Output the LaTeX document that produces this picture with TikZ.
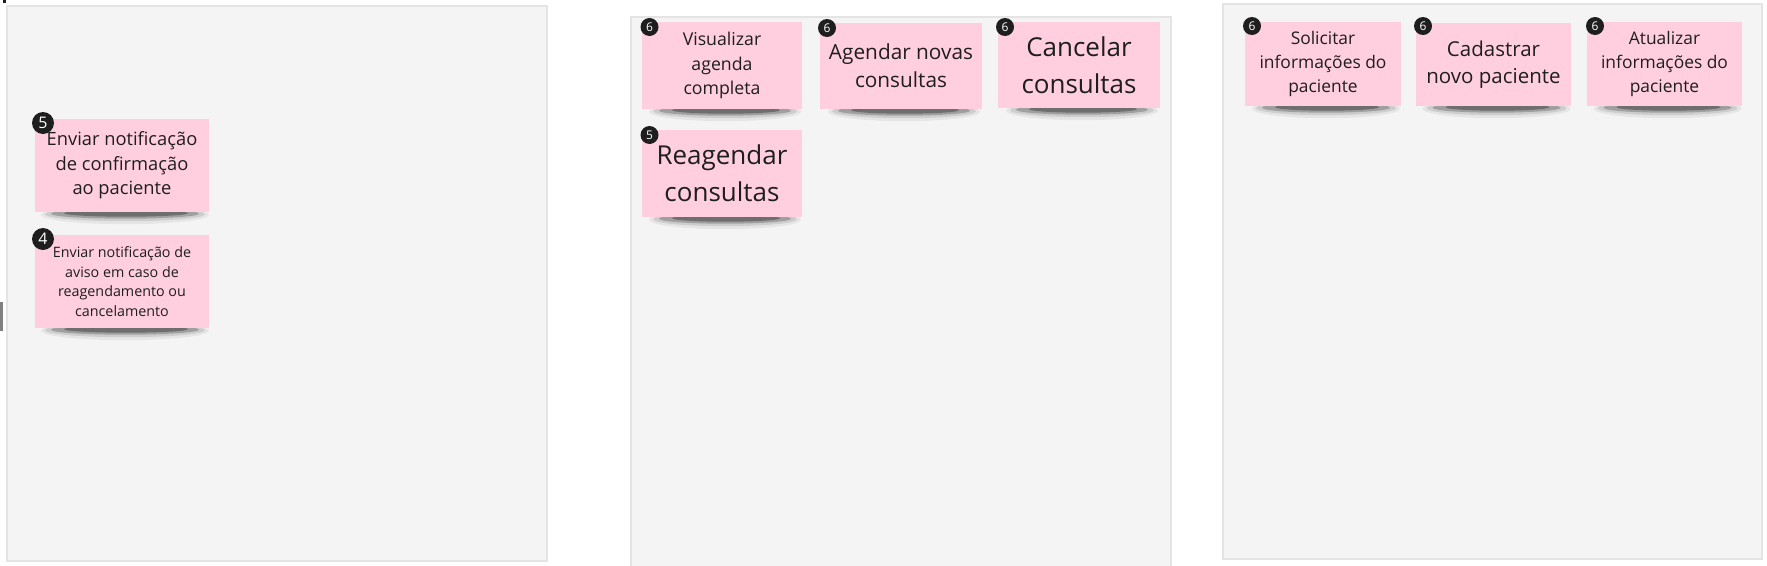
\documentclass[tikz,border=0pt]{standalone}
\usepackage{fontspec}
\setmainfont{Open Sans}
\usetikzlibrary{calc}
\definecolor{panelfill}{HTML}{F4F4F4}
\definecolor{panelline}{HTML}{E4E4E4}
\definecolor{stickyfill}{HTML}{FFCFDF}
\definecolor{inkc}{HTML}{1E1E1E}
\definecolor{markgray}{HTML}{808080}
\pgfdeclarelayer{background}
\pgfsetlayers{background,main}
\newcommand\fsz[2]{\fontsize{#1}{#2}\selectfont}
\newcommand\stickyshadow[2]{%
  \fill[black,opacity=0.06] ($(#1.south)+(3,2.5)$) ellipse [x radius=#2+4, y radius=9.5];
  \fill[black,opacity=0.10] ($(#1.south)+(3,2)$) ellipse [x radius=#2, y radius=7];
  \fill[black,opacity=0.22] ($(#1.south)+(3,1.5)$) ellipse [x radius=#2-6, y radius=5];
  \fill[black,opacity=0.30] ($(#1.south)+(4,1)$) ellipse [x radius=#2-18, y radius=3.5];
}
\begin{document}
\begin{tikzpicture}[x=1pt,y=-1pt,
  panel/.style={fill=panelfill,draw=panelline,line width=1.6pt},
  sticky/.style={fill=stickyfill,inner sep=0pt,align=center,text=inkc},
  badge/.style={circle,fill=inkc,text=white,inner sep=0pt,minimum size=18pt,font=\fontsize{12}{12}\selectfont},
  bigbadge/.style={circle,fill=inkc,text=white,inner sep=0pt,minimum size=22pt,font=\fontsize{16}{16}\selectfont}]
\useasboundingbox (0,0) rectangle (1767,565);

% stickies
\node[sticky,minimum width=174pt,minimum height=93pt,font=\fsz{18.3}{24.6}] (s5) at (122,165.5) {Enviar notificação\\de confirmação\\ao paciente};
\node[sticky,minimum width=174pt,minimum height=93pt,font=\fsz{14.3}{19.6}] (s4) at (122,281.5) {Enviar notificação de\\aviso em caso de\\reagendamento ou\\cancelamento};
\node[sticky,minimum width=160pt,minimum height=87pt,font=\fsz{17.7}{24.6}] (vis) at (722,65.5) {Visualizar\\agenda\\completa};
\node[sticky,minimum width=162pt,minimum height=86pt,font=\fsz{20.8}{27.7}] (age) at (901,66) {Agendar novas\\consultas};
\node[sticky,minimum width=162pt,minimum height=86pt,font=\fsz{26}{36.7}] (can) at (1079,65) {Cancelar\\consultas};
\node[sticky,minimum width=160pt,minimum height=87pt,font=\fsz{26}{36.7}] (rea) at (722,173.5) {Reagendar\\consultas};
\node[sticky,minimum width=156pt,minimum height=84pt,font=\fsz{17.4}{23.7}] (sol) at (1323,64) {Solicitar\\informações do\\paciente};
\node[sticky,minimum width=155pt,minimum height=83pt,font=\fsz{20.5}{27.3}] (cad) at (1493.5,64.5) {Cadastrar\\novo paciente};
\node[sticky,minimum width=155pt,minimum height=84pt,font=\fsz{17.4}{23.7}] (atu) at (1664.5,64) {Atualizar\\informações do\\paciente};

% badges
\node[bigbadge] (s5b) at (43,123) {5};
\node[bigbadge] (s4b) at (43,239) {4};
\node[badge] (visb) at (649.5,27) {6};
\node[badge] (ageb) at (827,28) {6};
\node[badge] (canb) at (1005,27) {6};
\node[badge] (reab) at (649.5,135) {5};
\node[badge] (solb) at (1252,26) {6};
\node[badge] (cadb) at (1423,26) {6};
\node[badge] (atub) at (1595,26) {6};

\begin{pgfonlayer}{background}
  \fill[white] (0,0) rectangle (1767,565);
  \draw[panel] (7,6) rectangle (547,561);
  \begin{scope}
    \clip (0,0) rectangle (1767,565);
    \draw[panel] (631,17) rectangle (1171,575);
  \end{scope}
  \draw[panel] (1223,4) rectangle (1762,559);
  \fill[markgray] (0,302) rectangle (3,331);
  \fill[inkc] (3,0) rectangle (6,3);
  \stickyshadow{s5}{80}
  \stickyshadow{s4}{80}
  \stickyshadow{vis}{72}
  \stickyshadow{age}{72}
  \stickyshadow{can}{72}
  \stickyshadow{rea}{72}
  \stickyshadow{sol}{70}
  \stickyshadow{cad}{70}
  \stickyshadow{atu}{70}
\end{pgfonlayer}
\end{tikzpicture}
\end{document}
